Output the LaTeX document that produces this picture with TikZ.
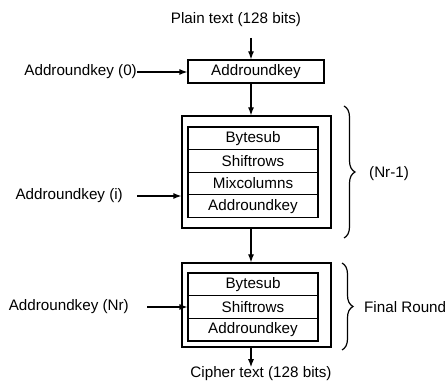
\documentclass[tikz,border=0pt]{standalone}
\usepackage{fontspec}
\setmainfont{Liberation Sans}
\usetikzlibrary{arrows.meta,decorations.pathreplacing}
\begin{document}
\begin{tikzpicture}[x=1pt,y=-1pt,
  font=\fontsize{15.2}{17}\selectfont,
  lw/.style={line width=1.2pt},
  arr/.style={lw,-{Latex[length=8pt,width=6pt]}},
  lbl/.style={inner sep=0pt},
  rowbox/.style={draw,lw,minimum width=130pt,minimum height=22.6pt,inner sep=0pt,anchor=center},
  outerbox/.style={draw,lw,inner sep=0pt},
  brc/.style={lw,decorate,decoration={brace,amplitude=11pt}}]
\useasboundingbox (0,0) rectangle (448,382);

\node[lbl] (plain) at (236,20) {Plain text (128 bits)};
\node[draw,lw,minimum width=136pt,minimum height=23pt,inner sep=0pt] (ark) at (256,71.5) {Addroundkey};
\node[lbl,anchor=east] (lbl0) at (137,72) {Addroundkey (0)};

% round block
\node[outerbox,minimum width=149pt,minimum height=112pt] (outer1) at (256.5,172) {};
\node[rowbox] (b1) at (253,138.3) {Bytesub};
\node[rowbox] (s1) at (253,160.9) {Shiftrows};
\node[rowbox] (m1) at (253,183.5) {Mixcolumns};
\node[rowbox] (a1) at (253,206.1) {Addroundkey};
\node[lbl,anchor=east] (lbli) at (123,196) {Addroundkey (i)};

% final round block
\node[outerbox,minimum width=149pt,minimum height=84pt] (outer2) at (256.5,305) {};
\node[rowbox] (b2) at (253,284.3) {Bytesub};
\node[rowbox] (s2) at (253,307) {Shiftrows};
\node[rowbox] (a2) at (253,329.7) {Addroundkey};
\node[lbl,anchor=east] (lblnr) at (129,307) {Addroundkey (Nr)};

\node[lbl] (cipher) at (261,373.5) {Cipher text (128 bits)};

% arrows
\coordinate (t0) at (251,38);
\draw[arr] (t0) -- (t0 |- ark.north);
\draw[arr] (lbl0.east) -- (ark.west |- lbl0.east);
\draw[arr] (ark.south -| t0) -- (outer1.north -| t0);
\draw[arr,shorten <=14pt] (lbli.east) -- (outer1.west |- lbli.east);
\draw[arr] (outer1.south -| t0) -- (outer2.north -| t0);
\draw[arr,shorten <=18pt] (lblnr.east) -- (b2.west |- lblnr.east);
\draw[arr] (outer2.south -| t0) -- ([yshift=-1pt]t0 |- cipher.north);

% braces
\draw[brc] (344,106) -- (344,238);
\node[lbl,anchor=west] (nr1) at (369,174) {(Nr-1)};
\draw[brc] (342,263) -- (342,350);
\node[lbl,anchor=west] (fr) at (364,307) {Final Round};
\end{tikzpicture}
\end{document}
